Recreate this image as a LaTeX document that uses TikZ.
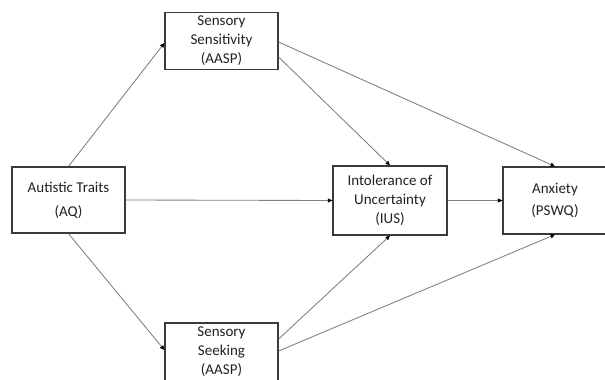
\documentclass[tikz,border=0pt]{standalone}
\usepackage{fontspec}
\setmainfont{Carlito}
\usetikzlibrary{arrows.meta,calc}
\definecolor{edgegray}{HTML}{7F7F7F}
\definecolor{boxline}{HTML}{3A3A3A}
\definecolor{ink}{HTML}{222222}
\begin{document}
\begin{tikzpicture}[x=1pt,y=-1pt,
  varbox/.style={draw=boxline, line width=1.2pt, fill=white, align=center,
    text=ink, inner sep=0pt,
    font=\fontsize{15}{19}\selectfont},
  path/.style={draw=edgegray, line width=0.85pt,
    -{Triangle[length=4.5pt,width=4pt,color=black]}}]
\useasboundingbox (0,0) rectangle (605,380);
\fill[white] (0,0) rectangle (605,380);

% variables
\node[varbox, minimum width=113pt, minimum height=57pt] (sens) at (221.5,41)
  {Sensory\\Sensitivity\\(AASP)};
\node[varbox, minimum width=113pt, minimum height=66pt] (aut) at (68.5,200)
  {Autistic Traits\\[5pt](AQ)};
\node[varbox, minimum width=114pt, minimum height=69pt] (ius) at (390,200.5)
  {Intolerance of\\Uncertainty\\(IUS)};
\node[varbox, minimum width=104pt, minimum height=67pt] (anx) at (555,200.5)
  {Anxiety\\[3pt](PSWQ)};
\node[varbox, minimum width=113pt, minimum height=58pt] (seek) at (221.5,352)
  {Sensory\\Seeking\\(AASP)};

% paths
\draw[path] (aut.north) -- ($(sens.west)+(0,2)$);
\draw[path] (aut.south) -- ($(seek.west)+(0,-2)$);
\draw[path] (aut.east) -- (ius.west);
\draw[path] ($(sens.east)+(0,1)$) -- (anx.north);
\draw[path] ($(sens.east)+(0,16)$) -- (ius.north);
\draw[path] (ius.east) -- (anx.west);
\draw[path] ($(seek.east)+(0,-13)$) -- (ius.south);
\draw[path] ($(seek.east)+(0,-1)$) -- (anx.south);
\end{tikzpicture}
\end{document}
